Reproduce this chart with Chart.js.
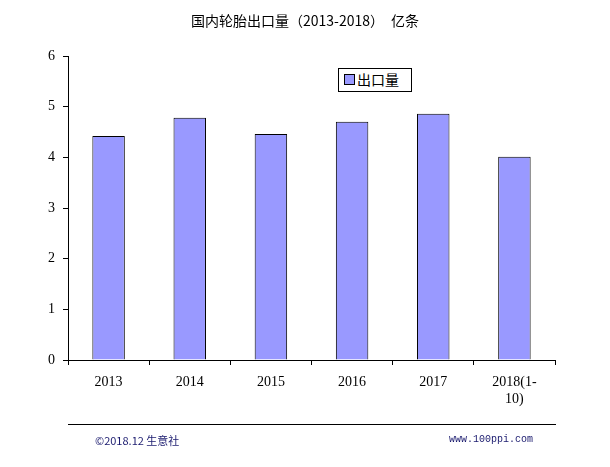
<!DOCTYPE html>
<html><head><meta charset="utf-8">
<script src="https://cdn.jsdelivr.net/npm/chart.js@4/dist/chart.umd.min.js"></script>
<style>
body{margin:0;background:#fff;font-family:"Noto Sans CJK SC","DejaVu Sans",sans-serif;}
#wrap{position:relative;width:610px;height:467px;}
canvas{position:absolute;left:0;top:0;}
.t{position:absolute;white-space:nowrap;}
</style></head><body>
<div id="wrap">
<canvas id="c" width="610" height="467"></canvas>
<div class="t" style="left:0;width:610px;top:10px;text-align:center;font-size:14px;">国内轮胎出口量（2013-2018）　亿条</div>
<div style="position:absolute;left:68px;top:424px;width:488px;height:1px;background:#000;"></div>
<div class="t" style="left:95px;top:432px;font-size:11px;color:#1a1a6e;">©2018.12 生意社</div>
<div class="t" style="left:449px;top:434px;font-size:10px;color:#1a1a6e;font-family:'Liberation Mono',monospace;">www.100ppi.com</div>
<div style="position:absolute;left:338px;top:68px;width:72px;height:22px;border:1px solid #000;background:#fff;"></div>
<div style="position:absolute;left:344px;top:74px;width:9px;height:9px;border:1px solid #000;background:#9999ff;"></div>
<div class="t" style="left:357px;top:69px;font-size:14px;">出口量</div>
</div>
<script>
const categories=[["2013"],["2014"],["2015"],["2016"],["2017"],["2018(1-","10)"]];
const seriesName="出口量";
const values=[4.42,4.78,4.46,4.70,4.86,4.01];
new Chart(document.getElementById('c'),{
type:'bar',
data:{labels:categories,datasets:[{label:seriesName,data:values,backgroundColor:'#9999ff',borderColor:'#000',borderWidth:1,barPercentage:0.4,categoryPercentage:1}]},
options:{responsive:false,animation:false,
layout:{padding:{top:56,right:55,left:0,bottom:0}},
plugins:{legend:{display:false},tooltip:{enabled:false}},
scales:{
x:{afterFit(s){s.height=107;},grid:{display:true,drawOnChartArea:false,offset:true,color:'#000',tickLength:5},border:{color:'#000'},
ticks:{color:'#000',font:{family:'"Liberation Serif","DejaVu Serif",serif',size:14},padding:9,maxRotation:0}},
y:{min:0,max:6,afterFit(s){s.width=68;},grid:{drawOnChartArea:false,color:'#000',tickLength:5},border:{color:'#000'},
ticks:{stepSize:1,color:'#000',font:{family:'"Liberation Serif","DejaVu Serif",serif',size:14},padding:8}}
}}});
</script></body></html>
